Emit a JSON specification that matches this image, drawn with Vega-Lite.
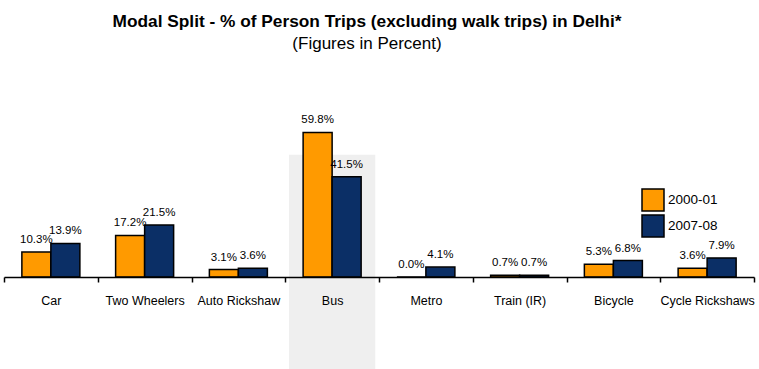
{
  "$schema": "https://vega.github.io/schema/vega-lite/v6.json",
  "width": 750,
  "height": 145,
  "autosize": "none",
  "padding": {"left": 4, "top": 132, "right": 5, "bottom": 92},
  "background": "white",
  "config": {
    "view": {"stroke": null},
    "axis": {"grid": false}
  },
  "title": {
    "text": "Modal Split - % of Person Trips (excluding walk trips) in Delhi*",
    "subtitle": "(Figures in Percent)",
    "font": "Liberation Sans, sans-serif",
    "fontSize": 17.3,
    "fontWeight": "bold",
    "color": "black",
    "subtitleFont": "Liberation Sans, sans-serif",
    "subtitleFontSize": 17,
    "subtitleColor": "black",
    "subtitlePadding": 6,
    "anchor": "middle",
    "dx": -12,
    "offset": 62
  },
  "datasets": {
    "trips": [
      {"category": "Car", "period": "2000-01", "value": 10.3, "label": "10.3%"},
      {"category": "Car", "period": "2007-08", "value": 13.9, "label": "13.9%"},
      {"category": "Two Wheelers", "period": "2000-01", "value": 17.2, "label": "17.2%"},
      {"category": "Two Wheelers", "period": "2007-08", "value": 21.5, "label": "21.5%"},
      {"category": "Auto Rickshaw", "period": "2000-01", "value": 3.1, "label": "3.1%"},
      {"category": "Auto Rickshaw", "period": "2007-08", "value": 3.6, "label": "3.6%"},
      {"category": "Bus", "period": "2000-01", "value": 59.8, "label": "59.8%"},
      {"category": "Bus", "period": "2007-08", "value": 41.5, "label": "41.5%"},
      {"category": "Metro", "period": "2000-01", "value": 0.0, "label": "0.0%"},
      {"category": "Metro", "period": "2007-08", "value": 4.1, "label": "4.1%"},
      {"category": "Train (IR)", "period": "2000-01", "value": 0.7, "label": "0.7%"},
      {"category": "Train (IR)", "period": "2007-08", "value": 0.7, "label": "0.7%"},
      {"category": "Bicycle", "period": "2000-01", "value": 5.3, "label": "5.3%"},
      {"category": "Bicycle", "period": "2007-08", "value": 6.8, "label": "6.8%"},
      {"category": "Cycle Rickshaws", "period": "2000-01", "value": 3.6, "label": "3.6%"},
      {"category": "Cycle Rickshaws", "period": "2007-08", "value": 7.9, "label": "7.9%"}
    ],
    "highlight": [
      {"category": "Bus", "top": 50.6, "bottom": -40}
    ]
  },
  "encoding": {
    "x": {
      "field": "category",
      "type": "nominal",
      "sort": null,
      "scale": {
        "domain": ["Car", "Two Wheelers", "Auto Rickshaw", "Bus", "Metro", "Train (IR)", "Bicycle", "Cycle Rickshaws"],
        "paddingInner": 0,
        "paddingOuter": 0
      },
      "axis": {
        "title": null,
        "labelAngle": 0,
        "zindex": 1,
        "domainColor": "black",
        "domainWidth": 1.5,
        "tickColor": "black",
        "tickWidth": 1.5,
        "tickSize": 5,
        "tickBand": "extent",
        "labelFont": "Liberation Sans, sans-serif",
        "labelFontSize": 12.5,
        "labelColor": "black",
        "labelPadding": 12
      }
    }
  },
  "layer": [
    {
      "data": {"name": "highlight"},
      "mark": {"type": "bar", "color": "#EFEFEF", "width": {"band": 0.92}},
      "encoding": {
        "y": {"field": "top", "type": "quantitative", "scale": {"domain": [0, 60]}, "axis": null},
        "y2": {"field": "bottom"}
      }
    },
    {
      "data": {"name": "trips"},
      "mark": {"type": "bar", "stroke": "black", "strokeWidth": 1.5},
      "encoding": {
        "xOffset": {"field": "period", "type": "nominal", "scale": {"paddingOuter": 0.616, "paddingInner": 0}},
        "y": {"field": "value", "type": "quantitative", "scale": {"domain": [0, 60]}, "axis": null},
        "color": {
          "field": "period",
          "type": "nominal",
          "scale": {"domain": ["2000-01", "2007-08"], "range": ["#FF9A00", "#0B2F66"]},
          "legend": {
            "orient": "none",
            "legendX": 637,
            "legendY": 56,
            "title": null,
            "symbolType": "square",
            "symbolSize": 484,
            "symbolStrokeColor": "black",
            "symbolStrokeWidth": 1.5,
            "symbolOpacity": 1,
            "labelFont": "Liberation Sans, sans-serif",
            "labelFontSize": 13.5,
            "labelColor": "black",
            "labelOffset": 3,
            "rowPadding": -3
          }
        }
      }
    },
    {
      "data": {"name": "trips"},
      "mark": {"type": "text", "baseline": "alphabetic", "dy": -9, "font": "Liberation Sans, sans-serif", "fontSize": 11.5, "color": "black"},
      "encoding": {
        "xOffset": {"field": "period", "type": "nominal", "scale": {"paddingOuter": 0.616, "paddingInner": 0}},
        "y": {"field": "value", "type": "quantitative", "scale": {"domain": [0, 60]}, "axis": null},
        "text": {"field": "label", "type": "nominal"}
      }
    }
  ]
}
